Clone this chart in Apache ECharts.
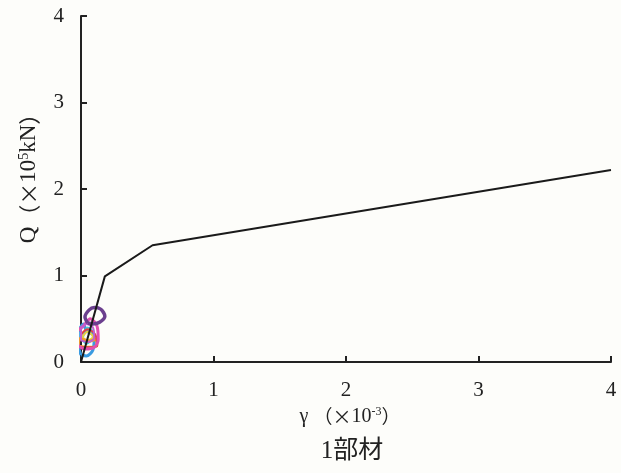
<!DOCTYPE html>
<html><head><meta charset="utf-8">
<script src="https://cdn.jsdelivr.net/npm/echarts@6/dist/echarts.min.js"></script>
<style>html,body{margin:0;padding:0;background:#fdfdfa;}#c{width:621px;height:473px;}</style>
</head><body><div id="c"></div>
<script>
const xTicks = [0, 1, 2, 3, 4];
const yTicks = [0, 1, 2, 3, 4];
const skeleton = [[0, 0], [0.18, 0.99], [0.54, 1.35], [4.0, 2.22]];
const loopPurple = [[0.05,0.45],[0.03,0.52],[0.06,0.6],[0.1,0.63],[0.15,0.61],[0.18,0.53],[0.14,0.46],[0.09,0.44],[0.05,0.45]];
const loopPink = [[-0.03,0.2],[-0.03,0.34],[0.02,0.42],[0.07,0.5],[0.12,0.42],[0.13,0.26],[0.1,0.17],[0.03,0.15],[-0.03,0.2]];
const loopPink2 = [[0.0,0.25],[0.0,0.37],[0.04,0.44],[0.09,0.4],[0.1,0.28],[0.05,0.23],[0.0,0.25]];
const loopBlue = [[0.0,0.08],[-0.02,0.2],[-0.02,0.34],[0.02,0.44],[0.04,0.36],[0.1,0.3],[0.09,0.14],[0.04,0.07],[0.0,0.08]];
const loopOrange = [[-0.02,0.19],[0.04,0.17],[0.12,0.19],[0.12,0.27],[0.06,0.24],[-0.01,0.27],[-0.02,0.19]];
const loopRed = [[-0.02,0.17],[0.12,0.18],[0.11,0.31],[0.05,0.38],[0.0,0.31],[-0.02,0.17]];
const loopCyan = [[0.01,0.26],[0.05,0.4],[0.1,0.32],[0.04,0.21],[0.01,0.26]];
const loopYellow = [[0.01,0.29],[0.05,0.35],[0.09,0.29],[0.05,0.25],[0.01,0.29]];

const font = '"Liberation Serif", serif';
const cjk = '"Noto Sans CJK JP", sans-serif';
function loop(data, color, w) {
  return { type: 'line', data: data, symbol: 'none', smooth: 0.3, clip: false, lineStyle: { color: color, width: w }, z: 3 };
}
const xRich = {
  a: { fontFamily: font, fontSize: 20, color: '#222' },
  p: { fontFamily: cjk, fontSize: 19, color: '#222' },
  s: { fontFamily: font, fontSize: 12, color: '#222', verticalAlign: 'top', padding: [0, 0, 9, 0] }
};
const yRich = {
  a: { fontFamily: font, fontSize: 23, color: '#222' },
  p: { fontFamily: cjk, fontSize: 22, color: '#222' },
  s: { fontFamily: font, fontSize: 14, color: '#222', verticalAlign: 'top', padding: [0, 0, 10, 0] }
};
const chart = echarts.init(document.getElementById('c'));
chart.setOption({
  backgroundColor: '#fdfdfa',
  animation: false,
  title: { text: '1部材', left: 347, top: 434, textAlign: 'center',
    textStyle: { fontFamily: '"Liberation Serif", "Noto Sans CJK JP", serif', fontSize: 25, fontWeight: 'normal', color: '#222' } },
  grid: { left: 81, right: 10, top: 16, bottom: 111 },
  xAxis: {
    type: 'value', min: 0, max: 4, interval: 1,
    name: '{a|γ }{p|（×}{a|10}{s|-3}{p|）}', nameLocation: 'middle', nameGap: 40,
    nameTextStyle: { rich: xRich, padding: [0, 0, 0, 8] },
    axisLine: { lineStyle: { color: '#222', width: 2 } },
    axisTick: { inside: true, length: 6, lineStyle: { color: '#222', width: 2 } },
    axisLabel: { margin: 18, fontFamily: font, fontSize: 21, color: '#222', formatter: v => xTicks.includes(v) ? String(v) : '' },
    splitLine: { show: false }
  },
  yAxis: {
    type: 'value', min: 0, max: 4, interval: 1,
    name: '{a|Q}{p|（×}{a|10}{s|5}{a|kN}{p|）}', nameLocation: 'middle', nameGap: 40,
    nameTextStyle: { rich: yRich, padding: [0, 0, 0, 32] },
    axisLine: { show: true, lineStyle: { color: '#222', width: 2 } },
    axisTick: { show: true, inside: true, length: 6, lineStyle: { color: '#222', width: 2 } },
    axisLabel: { margin: 17, fontFamily: font, fontSize: 21, color: '#222', formatter: v => yTicks.includes(v) ? String(v) : '' },
    splitLine: { show: false }
  },
  series: [
    loop(loopBlue, '#3a9be0', 3),
    loop(loopCyan, '#40c8d8', 2),
    loop(loopYellow, '#e8d040', 2),
    loop(loopOrange, '#f09a30', 3),
    loop(loopRed, '#e04040', 2),
    loop(loopPink, '#e050b0', 3),
    loop(loopPink2, '#c060d0', 2),
    loop(loopPurple, '#6b3f8e', 3.5),
    { type: 'line', data: skeleton, symbol: 'none', lineStyle: { color: '#1a1a1a', width: 2 }, z: 4 }
  ]
});
</script></body></html>
